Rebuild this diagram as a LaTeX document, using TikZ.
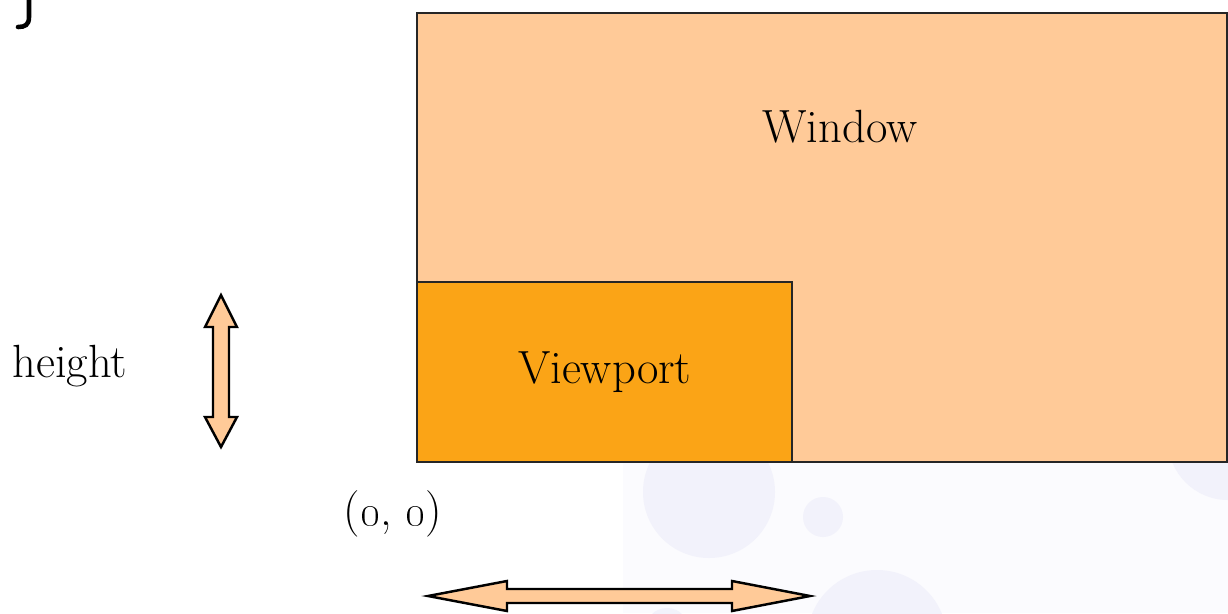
\documentclass[tikz,border=0pt]{standalone}
\usepackage{xcolor}
\definecolor{winfill}{HTML}{FFCA98}
\definecolor{vpfill}{HTML}{FBA416}
\definecolor{bgtint}{HTML}{FBFBFE}
\definecolor{bubble}{HTML}{F2F2FB}
\begin{document}
\begin{tikzpicture}[x=0.02cm,y=-0.02cm,
  boxst/.style={draw=black!85,line width=1.4pt},
  arrowst/.style={draw=black,line width=1.4pt,fill=winfill,line join=miter},
  lab/.style={font=\fontsize{26.5}{30}\selectfont,inner sep=0pt}]
\useasboundingbox (0,0) rectangle (1228,613);
\begin{scope}
\clip (0,0) rectangle (1228,613);
% faint background with bubbles
\fill[bgtint] (623,461) rectangle (1228,613);
\fill[bubble] (709,492) circle (66);
\fill[bubble] (823,517) circle (20);
\fill[bubble] (877,640) circle (70);
\fill[bubble] (1228,440) circle (60);
\fill[bubble] (667,630) circle (22);
% fragment of a letter at top left
\draw[line width=2.6pt,line cap=round] (29,0) -- (29,17) .. controls (29,25) and (25,27) .. (18,27);
\end{scope}
% boxes
\node[boxst,fill=winfill,minimum width=810*0.02cm,minimum height=449*0.02cm,anchor=north west,inner sep=0pt] (win) at (416,12) {};
\node[boxst,fill=vpfill,minimum width=375*0.02cm,minimum height=180*0.02cm,anchor=south west,inner sep=0pt] (vp) at (win.south west) {};
\node[lab] (wlab) at (840,127) {Window};
\node[lab] (vlab) at (vp.center) {Viewport};
\node[lab] (hlab) at (70,366) {height};
\node[lab] (orig) at (393,514) {(\oldstylenums{0}, \oldstylenums{0})};
% vertical double arrow
\draw[arrowst] (221,295) -- (237,327) -- (229,327) -- (229,417) -- (237,417) -- (221,447)
  -- (205,417) -- (213,417) -- (213,327) -- (205,327) -- cycle;
% horizontal double arrow
\draw[arrowst] (428,596) -- (507,581) -- (507,589) -- (732,589) -- (732,581) -- (810,596)
  -- (732,611) -- (732,603) -- (507,603) -- (507,611) -- cycle;
\end{tikzpicture}
\end{document}
